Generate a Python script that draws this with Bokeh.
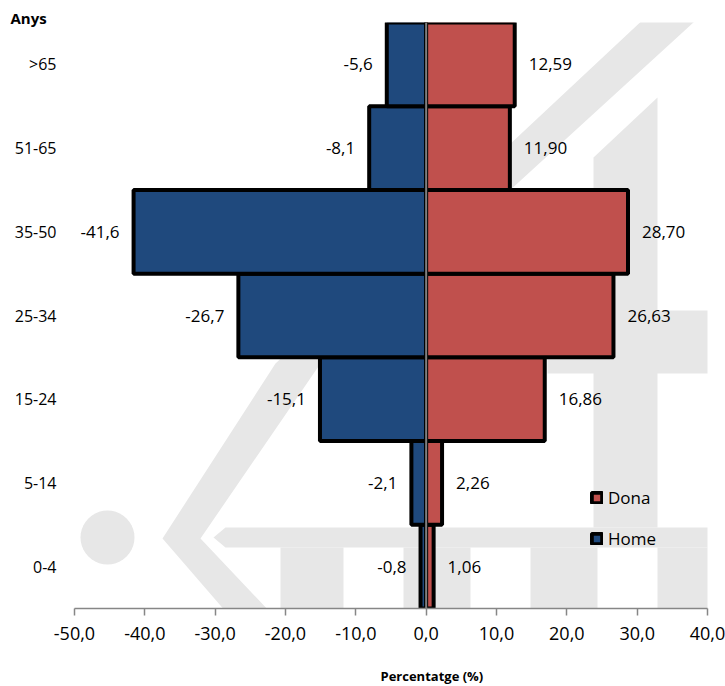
import math
from bokeh.plotting import figure
from bokeh.models import (Range1d, FactorRange, FixedTicker, Span, Legend, LegendItem,
                          Title, PolyAnnotation, ColumnDataSource)
from bokeh.core.properties import value
from bokeh.embed import file_html
from bokeh.resources import INLINE

# ---------------- data ----------------
ages = ["0-4", "5-14", "15-24", "25-34", "35-50", "51-65", ">65"]
home = [-0.8, -2.1, -15.1, -26.7, -41.6, -8.1, -5.6]
dona = [1.06, 2.26, 16.86, 26.63, 28.70, 11.90, 12.59]
x_ticks = [-50, -40, -30, -20, -10, 0, 10, 20, 30, 40]

home_labels = [f"{v:.1f}".replace(".", ",") for v in home]
dona_labels = [f"{v:.2f}".replace(".", ",") for v in dona]
tick_labels = {t: f"{t:.1f}".replace(".", ",") for t in x_ticks}

FONT = "Open Sans"
BLUE = "#1F497D"
RED = "#C0504D"
WM = "#e7e7e7"

src = ColumnDataSource(dict(age=ages, home=home, dona=dona,
                            home_lbl=home_labels, dona_lbl=dona_labels))

p = figure(width=725, height=686,
           x_range=Range1d(-50, 40), y_range=FactorRange(*ages),
           output_backend="svg", toolbar_location=None,
           min_border_left=74, min_border_right=18,
           min_border_top=22, min_border_bottom=78)
p.outline_line_color = None
p.grid.visible = False
p.background_fill_color = None
p.border_fill_color = "white"

# ---------------- watermark (decorative, canvas pixels) ----------------
shapes = []
shapes.append([(107 + 27 * math.cos(a / 40 * 2 * math.pi), 537 + 27 * math.sin(a / 40 * 2 * math.pi)) for a in range(40)])
shapes.append([(162, 538), (275, 363), (663, 0), (717, 0), (320, 363), (200, 538), (340, 686), (290, 686)])
shapes.append([(213, 537), (225, 527), (725, 527), (725, 547), (225, 547)])
for a, b in [(280, 343), (403, 470), (530, 597), (657, 717)]:
    shapes.append([(a, 547), (b, 547), (b, 690), (a, 690)])
shapes.append([(593, 157), (657, 97), (657, 527), (593, 527)])
shapes.append([(547, 310), (725, 310), (725, 373), (547, 373)])
for s in shapes:
    p.add_layout(PolyAnnotation(xs=[q[0] for q in s], ys=[q[1] for q in s],
                                xs_units="canvas", ys_units="canvas",
                                fill_color=WM, fill_alpha=1.0, line_color=None,
                                level="underlay"))

# ---------------- bars ----------------
r_home = p.hbar(y="age", left=0, right="home", height=1.0, source=src,
                fill_color=BLUE, line_color="black", line_width=4)
r_dona = p.hbar(y="age", left=0, right="dona", height=1.0, source=src,
                fill_color=RED, line_color="black", line_width=4)

p.add_layout(Span(location=0, dimension="height", line_color="#7f7f7f", line_width=2))

# ---------------- value labels ----------------
p.text(x="home", y="age", text="home_lbl", source=src, x_offset=-14,
       text_align="right", text_baseline="middle",
       text_font=value(FONT), text_font_size="17px", text_color="black")
p.text(x="dona", y="age", text="dona_lbl", source=src, x_offset=14,
       text_align="left", text_baseline="middle",
       text_font=value(FONT), text_font_size="17px", text_color="black")

# ---------------- axes ----------------
xa = p.xaxis[0]
xa.ticker = FixedTicker(ticks=x_ticks)
xa.major_label_overrides = tick_labels
xa.axis_line_color = "#868686"
xa.axis_line_width = 1.5
xa.major_tick_line_color = "#868686"
xa.major_tick_line_width = 1.5
xa.major_tick_out = 7
xa.major_tick_in = 0
xa.minor_tick_line_color = None
xa.major_label_standoff = 11
xa.major_label_text_font = FONT
xa.major_label_text_font_size = "18px"
xa.major_label_text_color = "black"

ya = p.yaxis[0]
ya.axis_line_color = None
ya.major_tick_line_color = None
ya.minor_tick_line_color = None
ya.major_tick_out = 0
ya.major_tick_in = 0
ya.major_label_standoff = 18
ya.major_label_text_font = FONT
ya.major_label_text_font_size = "16px"
ya.major_label_text_color = "black"

# "Anys" as the top title, shifted to the far left
p.title.text = "Anys"
p.title.align = "left"
p.title.offset = -64
p.title.standoff = -10
p.title.text_font = FONT
p.title.text_font_size = "15px"
p.title.text_font_style = "bold"
p.title.text_color = "black"

p.add_layout(Title(text="Percentatge (%)", align="left", offset=306, standoff=0,
                   padding=dict(top=22, right=0, bottom=0, left=0),
                   text_font=FONT, text_font_size="13px", text_font_style="bold",
                   text_color="black"), "below")

# ---------------- legend ----------------
legend = Legend(items=[LegendItem(label="Dona", renderers=[r_dona]),
                       LegendItem(label="Home", renderers=[r_home])],
                location=(516, 58), orientation="vertical",
                glyph_width=13, glyph_height=13, label_standoff=5,
                label_height=24, spacing=17, padding=0, margin=0,
                border_line_color=None, background_fill_alpha=0,
                label_text_font=FONT, label_text_font_size="17px",
                label_text_color="black")
p.add_layout(legend)

open("out.html", "w").write(file_html(p, INLINE))
